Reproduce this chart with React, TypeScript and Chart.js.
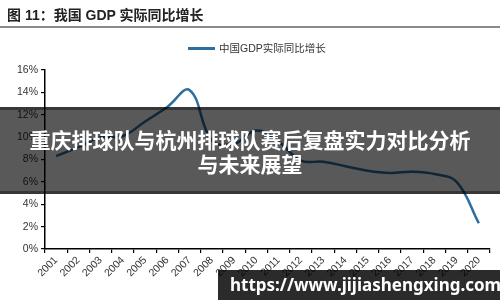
import React, { useEffect, useRef } from 'react';
import { Chart, registerables } from 'chart.js';

Chart.register(...registerables);

const years = ['2001', '2002', '2003', '2004', '2005', '2006', '2007', '2008', '2009', '2010', '2011', '2012', '2013', '2014', '2015', '2016', '2017', '2018', '2019', '2020'];
const gdpGrowth = [8.3, 9.1, 10.0, 10.1, 11.4, 12.7, 14.2, 9.7, 9.4, 10.6, 9.6, 7.9, 7.8, 7.4, 7.0, 6.8, 6.9, 6.7, 6.0, 2.3];
const seriesName = '中国GDP实际同比增长';
const chartTitle = '图 11：我国 GDP 实际同比增长';
const bannerLine1 = '重庆排球队与杭州排球队赛后复盘实力对比分析';
const bannerLine2 = '与未来展望';
const watermark = 'https://www.jijiashengxing.com';

const LINE_COLOR = '#2e6e9e';
const TICK_FONT = { family: '"Liberation Sans", Arial, sans-serif', size: 10.5 };

export default function App() {
  const ref = useRef<HTMLCanvasElement>(null);

  useEffect(() => {
    const chart = new Chart(ref.current!, {
      type: 'line',
      data: {
        labels: years,
        datasets: [
          {
            label: seriesName,
            data: gdpGrowth,
            borderColor: LINE_COLOR,
            borderWidth: 2.5,
            pointRadius: 0,
            tension: 0.4,
            fill: false,
          },
        ],
      },
      options: {
        responsive: false,
        animation: false,
        layout: { padding: { top: 70, right: 10, left: 0, bottom: 0 } },
        plugins: { legend: { display: false }, tooltip: { enabled: false } },
        scales: {
          x: {
            offset: true,
            grid: {
              display: true,
              drawOnChartArea: false,
              drawTicks: true,
              tickLength: 4,
              color: '#000',
              lineWidth: 1.2,
              offset: true,
            },
            border: { display: true, color: '#000', width: 1.5 },
            ticks: {
              minRotation: 45,
              maxRotation: 45,
              autoSkip: false,
              font: TICK_FONT,
              color: '#333',
              padding: 1,
            },
            afterFit: (s: any) => {
              s.height = 51;
            },
          },
          y: {
            min: 0,
            max: 16,
            grid: {
              display: true,
              drawOnChartArea: false,
              drawTicks: true,
              tickLength: 4,
              color: '#000',
              lineWidth: 1.2,
            },
            border: { display: true, color: '#000', width: 1.5 },
            ticks: {
              stepSize: 2,
              callback: (v: any) => v + '%',
              font: TICK_FONT,
              color: '#333',
              padding: 3,
            },
            afterFit: (s: any) => {
              s.width = 45;
            },
          },
        },
      },
    });
    return () => chart.destroy();
  }, []);

  return (
    <div
      style={{
        position: 'absolute',
        left: 0,
        top: 0,
        width: 500,
        height: 300,
        background: '#fff',
        overflow: 'hidden',
        fontFamily: '"Liberation Sans", "Noto Sans CJK SC", sans-serif',
      }}
    >
      <canvas ref={ref} width={500} height={300} style={{ position: 'absolute', left: 0, top: 0 }} />
      <div
        style={{
          position: 'absolute',
          left: 7,
          top: 7,
          fontSize: 14,
          fontWeight: 'bold',
          color: '#222',
          whiteSpace: 'nowrap',
          lineHeight: '17px',
        }}
      >
        {chartTitle}
      </div>
      <div style={{ position: 'absolute', left: 0, top: 26, width: 500, height: 1.5, background: '#8a8a8a' }} />
      <div style={{ position: 'absolute', left: 188, top: 46.5, width: 27, height: 3, background: LINE_COLOR }} />
      <div
        style={{
          position: 'absolute',
          left: 219,
          top: 41,
          fontSize: 10.5,
          lineHeight: '14px',
          color: '#333',
          whiteSpace: 'nowrap',
        }}
      >
        {seriesName}
      </div>
      <div
        style={{
          position: 'absolute',
          left: 0,
          top: 107,
          width: 500,
          height: 81,
          borderTop: '3px solid rgba(0,0,0,0.38)',
          borderBottom: '3px solid rgba(0,0,0,0.38)',
          background: 'rgba(0,0,0,0.65)',
          display: 'flex',
          flexDirection: 'column',
          alignItems: 'center',
          justifyContent: 'center',
          color: '#fff',
          fontFamily: '"Noto Sans CJK SC", sans-serif',
          fontWeight: 'bold',
          fontSize: 21,
          lineHeight: '24px',
          whiteSpace: 'nowrap',
        }}
      >
        <div>{bannerLine1}</div>
        <div>{bannerLine2}</div>
      </div>
      <div
        style={{
          position: 'absolute',
          left: 218,
          top: 270,
          width: 282,
          height: 30,
          background: 'rgba(0,0,0,0.83)',
          color: '#fff',
          fontFamily: '"Noto Sans", "Open Sans", sans-serif',
          fontWeight: 'bold',
          fontSize: 17,
          lineHeight: '30px',
          paddingLeft: 12,
          boxSizing: 'border-box',
          whiteSpace: 'nowrap',
        }}
      >
        {watermark}
      </div>
    </div>
  );
}
